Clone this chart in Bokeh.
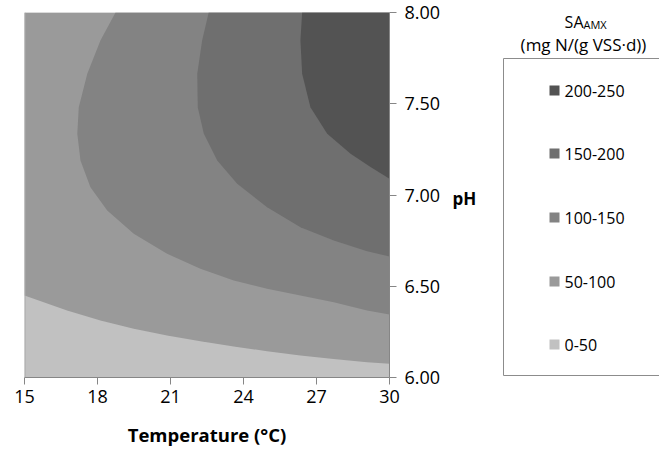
from bokeh.plotting import figure
from bokeh.models import Range1d, FixedTicker, NumeralTickFormatter, Span
from bokeh.layouts import row
from bokeh.embed import file_html
from bokeh.resources import INLINE
from bokeh.core.properties import value

# ---- data ----
temp_ticks = [15, 18, 21, 24, 27, 30]
ph_ticks = [6.0, 6.5, 7.0, 7.5, 8.0]
levels = ["0-50", "50-100", "100-150", "150-200", "200-250"]
colors = ["#c1c1c1", "#9a9a9a", "#838383", "#6f6f6f", "#535353"]

# contour boundaries (Temperature in °C, pH)
b50_T = [15, 16.75, 18.12, 19.49, 20.86, 22.23, 23.6, 24.97, 26.34, 27.7, 29.08, 30]
b50_pH = [6.449, 6.367, 6.312, 6.267, 6.230, 6.199, 6.170, 6.144, 6.121, 6.102, 6.084, 6.075]
b100_T = [18.74, 18.12, 17.58, 17.23, 17.17, 17.30, 17.71, 18.40, 19.49, 20.86, 22.23,
          23.60, 24.97, 26.34, 27.71, 29.08, 30.0]
b100_pH = [8.00, 7.847, 7.664, 7.481, 7.335, 7.189, 7.043, 6.915, 6.787, 6.678, 6.596,
           6.532, 6.486, 6.449, 6.413, 6.367, 6.345]
b150_T = [22.57, 22.30, 22.10, 22.12, 22.37, 22.92, 23.74, 24.97, 26.34, 27.71, 29.08, 30.0]
b150_pH = [8.00, 7.847, 7.664, 7.481, 7.335, 7.189, 7.061, 6.933, 6.823, 6.751, 6.692, 6.663]
b200_T = [26.41, 26.34, 26.41, 26.75, 27.44, 28.40, 29.22, 30.0]
b200_pH = [8.00, 7.847, 7.664, 7.481, 7.335, 7.226, 7.153, 7.089]

FONT = "Open Sans"
TMIN, TMAX = temp_ticks[0], temp_ticks[-1]
PMIN, PMAX = ph_ticks[0], ph_ticks[-1]

# ---- main contour figure ----
p = figure(width=445, height=452, x_range=Range1d(TMIN, TMAX), y_range=Range1d(PMIN, PMAX),
           x_axis_location="below", y_axis_location="right",
           min_border_left=24, min_border_top=12, min_border_bottom=75, min_border_right=56,
           toolbar_location=None, output_backend="svg")
p.grid.visible = False
p.outline_line_color = None

xs = [[TMIN, TMAX, TMAX, TMIN],
      b50_T + [TMAX, TMIN],
      b100_T + [TMAX],
      b150_T + [TMAX],
      b200_T + [TMAX]]
ys = [[PMIN, PMIN, PMAX, PMAX],
      b50_pH + [PMAX, PMAX],
      b100_pH + [PMAX],
      b150_pH + [PMAX],
      b200_pH + [PMAX]]
p.patches(xs=xs, ys=ys, fill_color=colors, line_color=None)
p.add_layout(Span(location=TMIN, dimension="height", line_color="#a9a9a9", line_width=2))

for ax in (p.xaxis[0], p.yaxis[0]):
    ax.axis_line_color = "#868686"
    ax.major_tick_line_color = "#868686"
    ax.major_tick_out = 7
    ax.major_tick_in = 0
    ax.minor_tick_line_color = None
    ax.major_label_text_font = FONT
    ax.major_label_text_font_size = "18px"
    ax.major_label_text_color = "#000000"

p.xaxis.ticker = FixedTicker(ticks=temp_ticks)
p.xaxis.major_label_standoff = 5
p.xaxis.axis_label = "Temperature (°C)"
p.xaxis.axis_label_text_font = FONT
p.xaxis.axis_label_text_font_size = "18.5px"
p.xaxis.axis_label_text_font_style = "bold"
p.xaxis.axis_label_text_color = "#000000"
p.xaxis.axis_label_standoff = 16

p.yaxis.ticker = FixedTicker(ticks=ph_ticks)
p.yaxis.formatter = NumeralTickFormatter(format="0.00")
p.yaxis.major_label_standoff = 8

# ---- legend panel (coordinates are page pixels) ----
lg = figure(width=214, height=452, x_range=Range1d(445, 659), y_range=Range1d(377, 12),
            x_axis_location=None, y_axis_location=None,
            min_border_left=0, min_border_right=0, min_border_top=12, min_border_bottom=75,
            toolbar_location=None, output_backend="svg")
lg.grid.visible = False
lg.outline_line_color = None

lg.text(x=[452], y=[198], text=["pH"], text_baseline="middle", text_align="left",
        text_font=value(FONT), text_font_size="17px", text_font_style="bold", text_color="#000000")

lg.quad(left=503, right=700, top=58, bottom=375, fill_color=None, line_color="#8c8c8c", line_width=1)
item_y = [344, 281, 217, 153, 90]
lg.rect(x=554, y=item_y, width=10, height=10, fill_color=colors, line_color=None)
lg.text(x=564, y=item_y, text=levels, text_baseline="middle", text_align="left",
        text_font=value(FONT), text_font_size="16px", text_color="#000000")

lg.text(x=[583], y=[21], text=["SA"], text_baseline="middle", text_align="right",
        text_font=value(FONT), text_font_size="16px", text_color="#000000")
lg.text(x=[583], y=[24], text=["AMX"], text_baseline="middle", text_align="left",
        text_font=value(FONT), text_font_size="11px", text_color="#000000")
lg.text(x=[583], y=[44], text=["(mg N/(g VSS·d))"], text_baseline="middle", text_align="center",
        text_font=value(FONT), text_font_size="17px", text_color="#000000")

layout = row(p, lg)
open("out.html", "w").write(file_html(layout, INLINE))
